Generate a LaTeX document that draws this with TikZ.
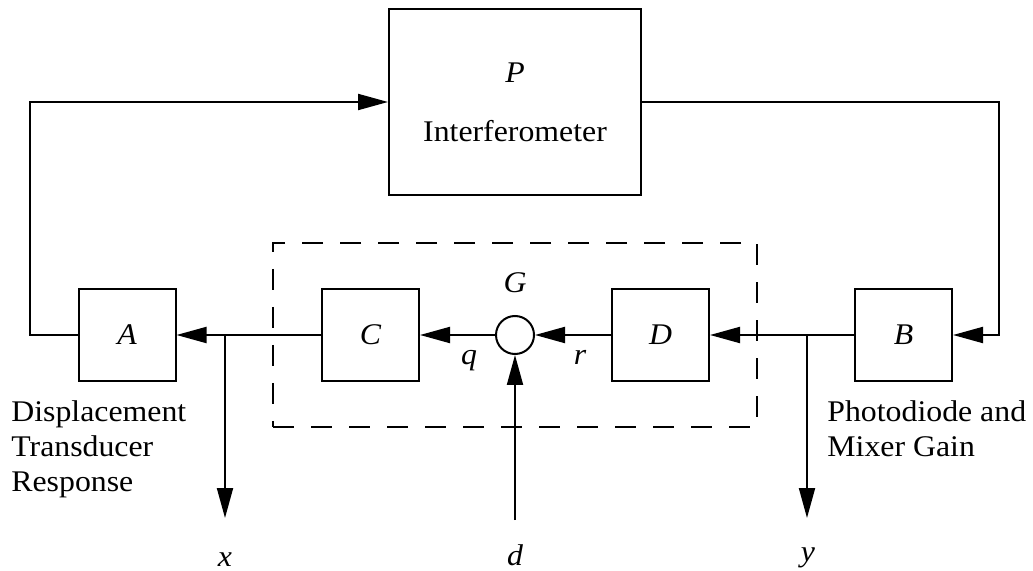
\documentclass[tikz,border=0pt]{standalone}
\usepackage{fontspec}
\setmainfont{Liberation Serif}[FakeStretch=1.06]
\usetikzlibrary{arrows.meta}
\newcommand{\diagfont}{\fontsize{15}{17.5}\selectfont}
\tikzset{
        sys_block/.style={draw, line width=1pt, inner sep=0pt,
                          minimum width=48.5pt, minimum height=46pt, font=\diagfont\itshape},
        sum_node/.style={draw, circle, line width=1pt, minimum size=19pt, inner sep=0pt},
        ctrl_box/.style={draw, line width=1pt, dash pattern=on 10.5pt off 8.5pt,
                         minimum width=242pt, minimum height=92pt, inner sep=0pt},
        sig_line/.style={line width=1pt},
        sig_arrow/.style={sig_line, -{Triangle[length=15pt, width=8pt]}},
        sym_text/.style={font=\diagfont\itshape, inner sep=0pt, anchor=base},
        note_text/.style={align=left, anchor=north west, inner sep=0pt}
    }

\begin{document}
\begin{tikzpicture}[x=0.5pt, y=-0.5pt, font=\diagfont]
    \useasboundingbox (0,0) rectangle (1033,571);
    % plant
    \node[sys_block, minimum width=126pt, minimum height=93pt] (P) at (515,102) {};
    \node[sym_text] (P_sym) at (515,83) {P};
    \node[inner sep=0pt, anchor=base] (P_txt) at (515,142) {Interferometer};
    % controller G
    \node[ctrl_box] (G_box) at (515,335) {};
    \node[sym_text] (G_sym) at (515,293) {G};
    \node[sum_node] (S) at (515,335) {};
    \node[sys_block] (C) at (370.5,335) {C};
    \node[sys_block] (D) at (660.5,335) {D};
    % sensor and actuator
    \node[sys_block] (A) at (127,335) {A};
    \node[sys_block] (B) at (903.5,335) {B};
    \node[note_text] (A_txt) at (11,400) {Displacement\\Transducer\\Response};
    \node[note_text] (B_txt) at (827,400) {Photodiode and\\Mixer Gain};
    % signals
    \coordinate (y_tap) at (807,335);
    \coordinate (y_end) at (807,518);
    \coordinate (x_tap) at (225,335);
    \coordinate (x_end) at (225,518);
    \coordinate (d_start) at (515,520);
    \coordinate (fb_left) at (30,102);
    \coordinate (fb_right) at (999,102);
    \draw[sig_arrow] (B.west) -- (D.east);
    \draw[sig_arrow] (y_tap) -- (y_end);
    \draw[sig_arrow] (D.west) -- (S.east);
    \draw[sig_arrow] (S.west) -- (C.east);
    \draw[sig_arrow] (C.west) -- (A.east);
    \draw[sig_arrow] (x_tap) -- (x_end);
    \draw[sig_arrow] (d_start) -- (S.south);
    \draw[sig_arrow] (A.west) -| (fb_left) -- (P.west);
    \draw[sig_arrow] (P.east) -- (fb_right) |- (B.east);
    % signal names
    \node[sym_text] (q_lbl) at (469,365) {q};
    \node[sym_text] (r_lbl) at (580,365) {r};
    \node[sym_text] (x_lbl) at (225,566) {x};
    \node[sym_text] (d_lbl) at (515,565) {d};
    \node[sym_text] (y_lbl) at (808,561) {y};
\end{tikzpicture}
\end{document}
